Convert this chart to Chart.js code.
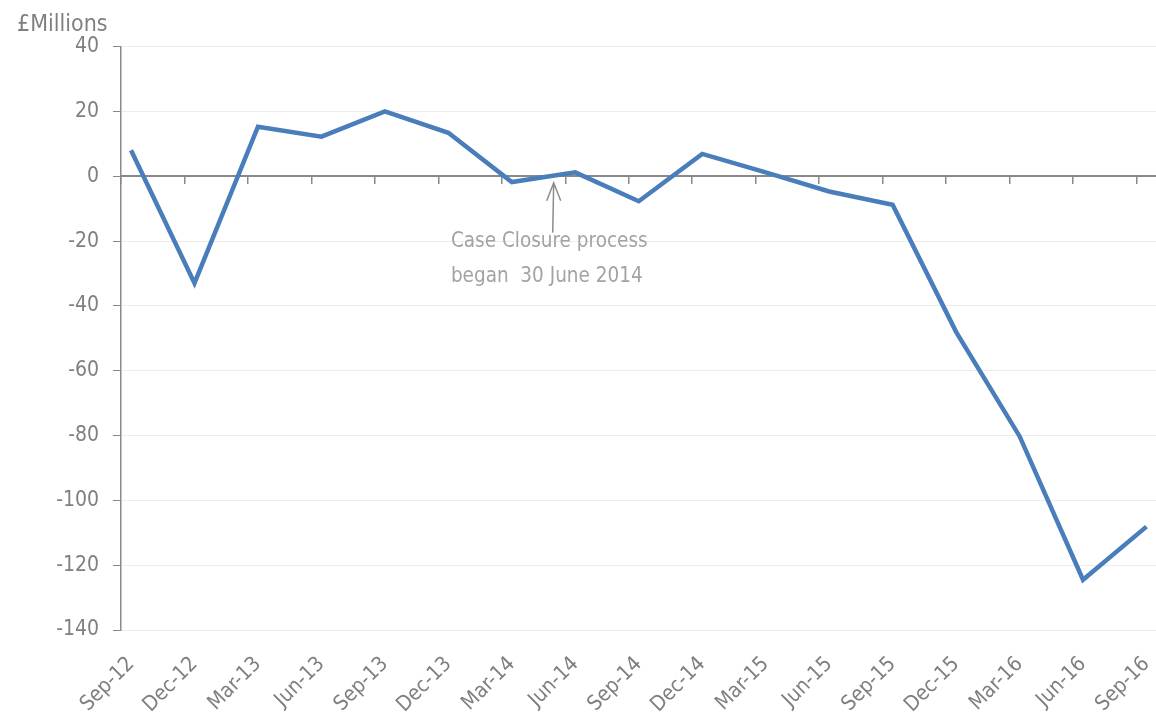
<!DOCTYPE html>
<html>
<head>
<meta charset="utf-8">
<script src="https://cdn.jsdelivr.net/npm/chart.js@4/dist/chart.umd.min.js"></script>
<style>
  html, body { margin: 0; padding: 0; background: #fff; }
  #wrap { width: 1156px; height: 722px; }
</style>
</head>
<body>
<div id="wrap"><canvas id="chart" width="1156" height="722"></canvas></div>
<script>
const quarters = ['Sep-12', 'Dec-12', 'Mar-13', 'Jun-13', 'Sep-13', 'Dec-13', 'Mar-14', 'Jun-14', 'Sep-14',
  'Dec-14', 'Mar-15', 'Jun-15', 'Sep-15', 'Dec-15', 'Mar-16', 'Jun-16', 'Sep-16']
const balance = [8, -33, 15.3, 12.2, 20, 13.4, -1.8, 1.2, -7.7, 6.9, 1.2, -4.7, -8.8, -48, -80.2, -124.5, -108.1]
const yTicks = [40, 20, 0, -20, -40, -60, -80, -100, -120, -140]
const noteLines = ['Case Closure process', 'began  30 June 2014']

const font = '"Liberation Sans Narrow", "DejaVu Sans Condensed", "Open Sans", sans-serif'
const axisGrey = '#898989'
const textGrey = '#7f7f7f'

// Excel puts the tick marks between the quarter points, a little left of each one
const xMin = -0.158
const xMax = 16.15
const boundaries = quarters.map((q, i) => xMin + i)

const annotation = {
  id: 'annotation',
  afterDraw(chart) {
    const { ctx, scales: { x, y } } = chart
    const ax = x.getPixelForValue(6.66)
    const tipY = y.getPixelForValue(-2)
    const tailY = y.getPixelForValue(-17.4)

    ctx.save()
    ctx.strokeStyle = '#8c8c8c'
    ctx.lineWidth = 1.5
    ctx.beginPath()
    ctx.moveTo(ax - 1, tailY)
    ctx.lineTo(ax, tipY)
    ctx.moveTo(ax - 7, tipY + 18)
    ctx.lineTo(ax, tipY)
    ctx.lineTo(ax + 7, tipY + 18)
    ctx.stroke()

    ctx.fillStyle = '#a3a3a3'
    ctx.font = '20.5px ' + font
    ctx.textAlign = 'left'
    ctx.textBaseline = 'alphabetic'
    const left = x.getPixelForValue(5.04)
    ctx.fillText(noteLines[0], left, y.getPixelForValue(-21.7))
    ctx.fillText(noteLines[1], left, y.getPixelForValue(-32.5))
    ctx.restore()
  }
}

new Chart(document.getElementById('chart').getContext('2d'), {
  type: 'line',
  data: {
    datasets: [{
      data: balance.map((v, i) => ({ x: i, y: v })),
      borderColor: '#4a7ebb',
      borderWidth: 4.5,
      pointRadius: 0,
      tension: 0,
      fill: false
    }]
  },
  options: {
    responsive: false,
    animation: false,
    devicePixelRatio: 1,
    layout: { padding: { left: 17, right: 0, top: 0, bottom: 0 } },
    plugins: {
      legend: { display: false },
      tooltip: { enabled: false },
      title: {
        display: true,
        text: '£Millions',
        align: 'start',
        color: textGrey,
        font: { family: font, size: 23, weight: 'normal' },
        padding: { top: 11, bottom: 8 }
      }
    },
    scales: {
      x: {
        type: 'linear',
        position: 'bottom',
        min: xMin,
        max: xMax,
        afterBuildTicks: scale => {
          scale.ticks = quarters.map((q, i) => ({ value: i }))
        },
        afterFit: scale => {
          scale.height = 92
          scale.paddingLeft = 0
          scale.paddingRight = 0
        },
        grid: { display: false },
        border: { display: false },
        ticks: {
          autoSkip: false,
          maxRotation: 45,
          minRotation: 45,
          padding: 14,
          color: textGrey,
          font: { family: font, size: 21 },
          callback: v => quarters[v]
        }
      },
      x2: {
        type: 'linear',
        axis: 'x',
        position: { y: 0 },
        min: xMin,
        max: xMax,
        afterBuildTicks: scale => {
          scale.ticks = boundaries.map(v => ({ value: v }))
        },
        grid: { drawOnChartArea: false, drawTicks: true, tickLength: 7, color: axisGrey, lineWidth: 1.5 },
        border: { display: true, color: axisGrey, width: 2 },
        ticks: { display: false }
      },
      y: {
        min: -140,
        max: 40,
        afterBuildTicks: scale => {
          scale.ticks = yTicks.map(v => ({ value: v }))
        },
        afterFit: scale => {
          scale.width = 104
        },
        grid: { color: '#ececec', lineWidth: 1, tickColor: axisGrey, tickLength: 8 },
        border: { display: true, color: axisGrey, width: 1.5 },
        ticks: {
          padding: 14,
          color: textGrey,
          font: { family: font, size: 21 }
        }
      }
    }
  },
  plugins: [annotation]
})
</script>
</body>
</html>
